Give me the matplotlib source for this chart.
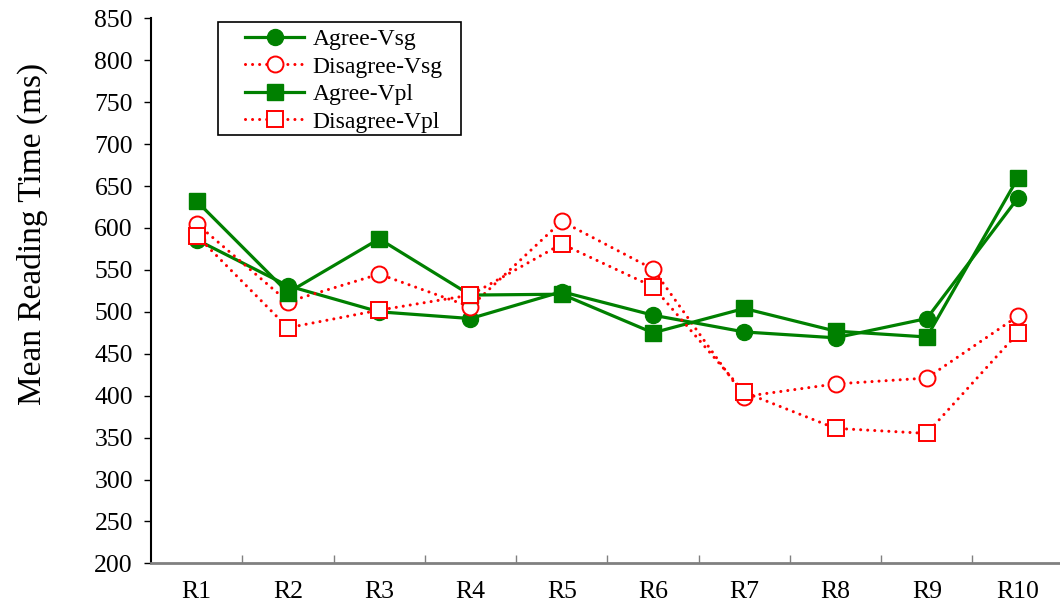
import matplotlib
matplotlib.use('Agg')
import matplotlib.pyplot as plt
from matplotlib.patches import Rectangle
from matplotlib.ticker import FixedLocator

regions = ['R1', 'R2', 'R3', 'R4', 'R5', 'R6', 'R7', 'R8', 'R9', 'R10']
agree_vsg = [586, 531, 500, 492, 524, 496, 476, 469, 492, 636]
disagree_vsg = [605, 512, 545, 506, 608, 551, 399, 414, 421, 495]
agree_vpl = [632, 523, 587, 520, 521, 475, 504, 477, 470, 660]
disagree_vpl = [591, 481, 502, 520, 581, 530, 404, 361, 355, 475]

plt.rcParams['font.family'] = ['Liberation Serif', 'DejaVu Serif']

fig = plt.figure(figsize=(10.6, 6.13), dpi=100)
ax = fig.add_axes([0.1425, 0.081, 0.861, 0.889])

x = range(len(regions))
green = '#008000'
red = '#ff0000'
dots = (0, (0.01, 2.3))
ax.plot(x, agree_vsg, color=green, lw=2.3, marker='o', ms=11.5, label='Agree-Vsg')
ax.plot(x, disagree_vsg, color=red, lw=2.2, ls=dots, dash_capstyle='round',
        marker='o', ms=11.5, mfc='white', mec=red, mew=1.4, label='Disagree-Vsg')
ax.plot(x, agree_vpl, color=green, lw=2.3, marker='s', ms=11, label='Agree-Vpl')
ax.plot(x, disagree_vpl, color=red, lw=2.2, ls=dots, dash_capstyle='round',
        marker='s', ms=11, mfc='white', mec=red, mew=1.4, label='Disagree-Vpl')

ax.set_xlim(-0.5, len(regions) - 0.5)
ax.set_ylim(200, 850)
ax.set_yticks(range(200, 851, 50))
ax.set_xticks(list(x))
ax.set_xticklabels(regions)
ax.xaxis.set_minor_locator(FixedLocator([i + 0.5 for i in range(len(regions) - 1)]))
ax.tick_params(axis='x', which='major', length=0, pad=13, labelsize=18.5)
ax.tick_params(axis='x', which='minor', direction='in', length=6, color='#808080', width=1)
ax.tick_params(axis='y', direction='out', length=5, width=1, labelsize=18.5, pad=8)

for s in ['top', 'right']:
    ax.spines[s].set_visible(False)
ax.spines['left'].set_linewidth(1.5)
ax.spines['bottom'].set_color('#808080')
ax.spines['bottom'].set_linewidth(2)

ax.set_ylabel('Mean Reading Time (ms)', fontsize=24)
ax.yaxis.set_label_coords(-0.113, 0.605)

leg = ax.legend(loc='upper left', bbox_to_anchor=(0.103, 0.981), fontsize=17,
                frameon=False, handlelength=2.5, borderpad=0, borderaxespad=0,
                labelspacing=0.25, handletextpad=0.35)
ax.add_patch(Rectangle((0.0735, 0.786), 0.2664, 0.208, transform=ax.transAxes,
                       fill=False, edgecolor='black', lw=1.2, clip_on=False))

fig.savefig('out.png', dpi=100)
